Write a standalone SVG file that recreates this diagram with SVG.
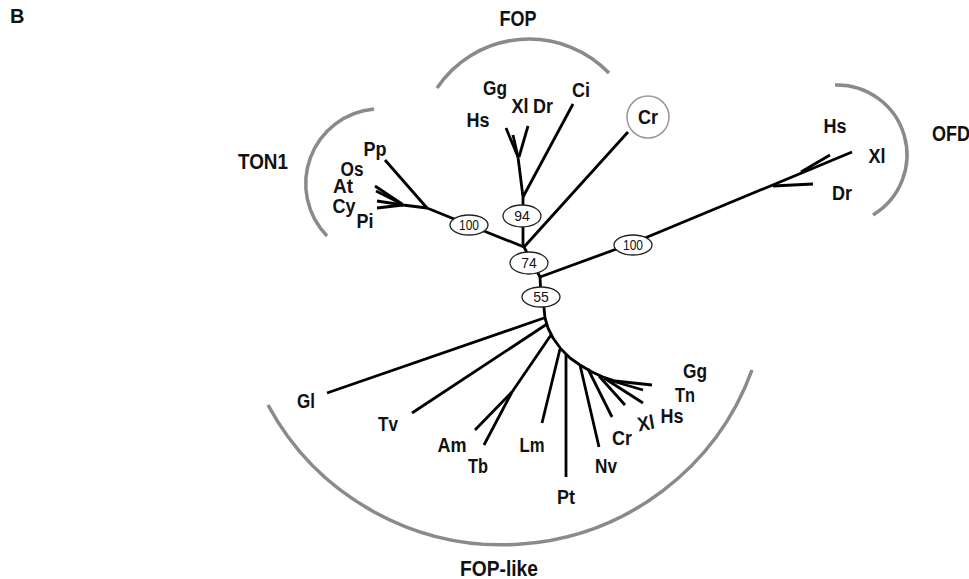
<svg xmlns="http://www.w3.org/2000/svg" width="969" height="579" viewBox="0 0 969 579">
<style>
.br{fill:none;stroke:#000;stroke-width:2.8;stroke-linecap:butt;stroke-linejoin:round}
.arc{fill:none;stroke:#8a8a8a;stroke-width:3.5}
.sp{font-family:"Liberation Sans",Arial,sans-serif;font-weight:bold;font-size:20px;fill:#111;text-anchor:middle}
.cl{font-family:"Liberation Sans",Arial,sans-serif;font-weight:bold;font-size:22px;fill:#111;text-anchor:middle}
.bs ellipse{fill:#fff;stroke:#222;stroke-width:1.3}
.bs text{font-family:"Liberation Sans",Arial,sans-serif;font-size:14px;fill:#111;text-anchor:middle}
</style>
<rect width="969" height="579" fill="#fff"/>
<text x="10" y="23" style="font-family:'Liberation Sans',Arial,sans-serif;font-weight:bold;font-size:20px" fill="#111">B</text>

<g id="brackets">
<path class="arc" d="M374,109 A75,75 0 0 0 327,236"/>
<path class="arc" d="M437,88 A111,111 0 0 1 609,73"/>
<path class="arc" d="M835,85 A70,70 0 0 1 873,215"/>
<path class="arc" d="M268,405 A266,266 0 0 0 752,370"/>
</g>

<g id="connectors">
<!-- TON1 -->
<polyline class="br" points="524,247 469,225 427,208"/>
<line class="br" x1="385" y1="160" x2="427" y2="208"/>
<line class="br" x1="403" y1="205" x2="427" y2="208"/>
<line class="br" x1="375" y1="186" x2="402" y2="204"/>
<line class="br" x1="376" y1="191" x2="402" y2="204"/>
<line class="br" x1="377" y1="201" x2="403" y2="205"/>
<line class="br" x1="377" y1="208" x2="403" y2="205"/>
<!-- FOP -->
<line class="br" x1="506" y1="128" x2="518" y2="157"/>
<line class="br" x1="513" y1="135" x2="518" y2="157"/>
<line class="br" x1="528" y1="126" x2="519" y2="157"/>
<polyline class="br" points="518,157 523,197 523,247"/>
<line class="br" x1="573" y1="104" x2="523" y2="197"/>
<line class="br" x1="628" y1="132" x2="524" y2="247"/>
<!-- root / OFD -->
<polyline class="br" points="524,247 540,277 541,297 544,308"/>
<polyline class="br" points="540,277 633,243 852,152"/>
<line class="br" x1="830" y1="155" x2="801" y2="172"/>
<line class="br" x1="813" y1="184" x2="773" y2="186"/>
<!-- FOP-like -->
<path class="br" d="M544,308 L545,318 L548,328 L553,338 L561,349 L570,358 L580,365 L592,372 L603,377 L615,381 L652,385"/>
<line class="br" x1="327" y1="393" x2="544" y2="318"/>
<line class="br" x1="412" y1="413" x2="547" y2="324"/>
<polyline class="br" points="484,445 512,392 551,335"/>
<line class="br" x1="475" y1="430" x2="512" y2="392"/>
<line class="br" x1="542" y1="423" x2="560" y2="349"/>
<line class="br" x1="566" y1="477" x2="566" y2="354"/>
<line class="br" x1="599" y1="447" x2="580" y2="365"/>
<line class="br" x1="612" y1="417" x2="588" y2="369"/>
<line class="br" x1="625" y1="405" x2="599" y2="376"/>
<line class="br" x1="643" y1="403" x2="604" y2="378"/>
<line class="br" x1="643" y1="390" x2="609" y2="380"/>
</g>

<g id="bootstrap" class="bs">
<g id="bs-ton1"><ellipse cx="469" cy="225" rx="19" ry="10"/><text x="469" y="230" textLength="20" lengthAdjust="spacingAndGlyphs">100</text></g>
<g id="bs-fop"><ellipse cx="522" cy="216" rx="19" ry="11"/><text x="522" y="221">94</text></g>
<g id="bs-74"><ellipse cx="529" cy="263" rx="19" ry="11"/><text x="529" y="268">74</text></g>
<g id="bs-55"><ellipse cx="541" cy="297" rx="19" ry="10"/><text x="541" y="302">55</text></g>
<g id="bs-ofd"><ellipse cx="633" cy="245" rx="19" ry="10"/><text x="633" y="250" textLength="20" lengthAdjust="spacingAndGlyphs">100</text></g>
</g>

<g id="clade-ton1">
<text class="cl" x="263" y="169" textLength="50" lengthAdjust="spacingAndGlyphs">TON1</text>
<text class="sp" x="375" y="156" textLength="23" lengthAdjust="spacingAndGlyphs">Pp</text>
<text class="sp" x="352" y="176" textLength="23" lengthAdjust="spacingAndGlyphs">Os</text>
<text class="sp" x="343" y="193" textLength="20" lengthAdjust="spacingAndGlyphs">At</text>
<text class="sp" x="344" y="213" textLength="23" lengthAdjust="spacingAndGlyphs">Cy</text>
<text class="sp" x="365" y="228" textLength="17" lengthAdjust="spacingAndGlyphs">Pi</text>
</g>

<g id="clade-fop">
<text class="cl" x="518" y="26" textLength="37" lengthAdjust="spacingAndGlyphs">FOP</text>
<text class="sp" x="495" y="95" textLength="24" lengthAdjust="spacingAndGlyphs">Gg</text>
<text class="sp" x="520" y="113" textLength="17" lengthAdjust="spacingAndGlyphs">Xl</text>
<text class="sp" x="543" y="113" textLength="20" lengthAdjust="spacingAndGlyphs">Dr</text>
<text class="sp" x="581" y="97" textLength="18" lengthAdjust="spacingAndGlyphs">Ci</text>
<text class="sp" x="478" y="127" textLength="23" lengthAdjust="spacingAndGlyphs">Hs</text>
</g>

<g id="node-cr">
<circle cx="648" cy="117" r="21" fill="#fff" stroke="#999" stroke-width="1.5"/>
<text class="sp" x="648" y="124" textLength="20" lengthAdjust="spacingAndGlyphs">Cr</text>
</g>

<g id="clade-ofd">
<text class="cl" x="932" y="141" style="text-anchor:start" textLength="38" lengthAdjust="spacingAndGlyphs">OFD</text>
<text class="sp" x="835" y="133" textLength="23" lengthAdjust="spacingAndGlyphs">Hs</text>
<text class="sp" x="877" y="163" textLength="17" lengthAdjust="spacingAndGlyphs">Xl</text>
<text class="sp" x="842" y="200" textLength="20" lengthAdjust="spacingAndGlyphs">Dr</text>
</g>

<g id="clade-foplike">
<text class="cl" x="499" y="576" textLength="78" lengthAdjust="spacingAndGlyphs">FOP-like</text>
<text class="sp" x="306" y="408" textLength="18" lengthAdjust="spacingAndGlyphs">Gl</text>
<text class="sp" x="388" y="431" textLength="20" lengthAdjust="spacingAndGlyphs">Tv</text>
<text class="sp" x="452" y="452" textLength="29" lengthAdjust="spacingAndGlyphs">Am</text>
<text class="sp" x="478" y="473" textLength="20" lengthAdjust="spacingAndGlyphs">Tb</text>
<text class="sp" x="532" y="452" textLength="25" lengthAdjust="spacingAndGlyphs">Lm</text>
<text class="sp" x="566" y="504" textLength="18" lengthAdjust="spacingAndGlyphs">Pt</text>
<text class="sp" x="606" y="473" textLength="22" lengthAdjust="spacingAndGlyphs">Nv</text>
<text class="sp" x="622" y="445" textLength="20" lengthAdjust="spacingAndGlyphs">Cr</text>
<text class="sp" x="646" y="430" textLength="17" lengthAdjust="spacingAndGlyphs" transform="rotate(-10 646 424)">Xl</text>
<text class="sp" x="672" y="423" textLength="23" lengthAdjust="spacingAndGlyphs">Hs</text>
<text class="sp" x="685" y="402" textLength="20" lengthAdjust="spacingAndGlyphs">Tn</text>
<text class="sp" x="695" y="378" textLength="24" lengthAdjust="spacingAndGlyphs">Gg</text>
</g>
</svg>
